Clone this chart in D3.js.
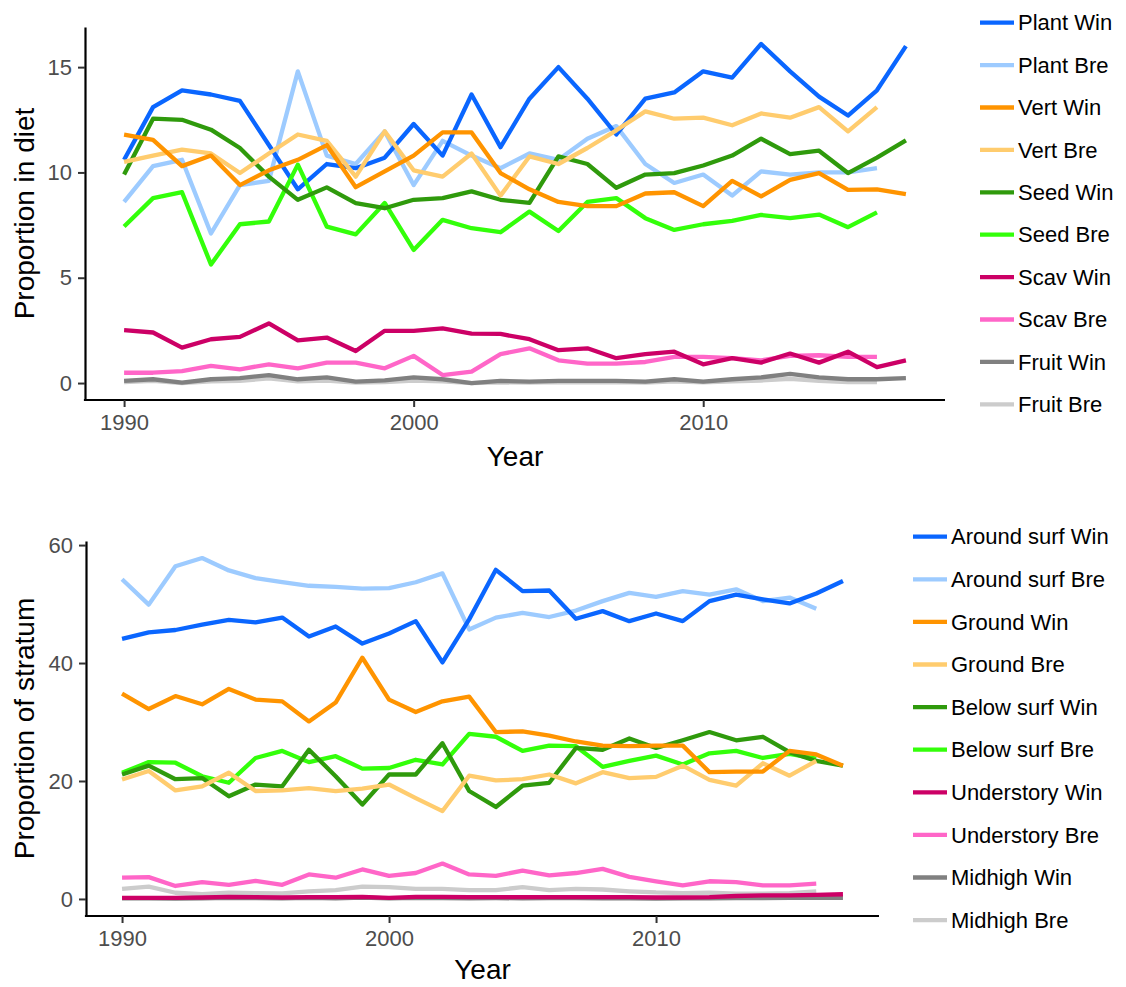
<!DOCTYPE html>
<html>
<head>
<meta charset="utf-8">
<script src="https://cdn.jsdelivr.net/npm/d3@7"></script>
<style>
  html, body { margin: 0; padding: 0; background: #ffffff; }
  svg text { font-family: "Liberation Sans", Arial, Helvetica, sans-serif; }
</style>
</head>
<body>
<svg id="chart" width="1126" height="987"></svg>
<script>
// Years sampled: winter series run to 2017, breeding series to 2016
const yearsWin = [1990,1991,1992,1993,1994,1995,1996,1997,1998,1999,2000,2001,2002,2003,2004,2005,2006,2007,2008,2009,2010,2011,2012,2013,2014,2015,2016,2017];
const yearsBre = [1990,1991,1992,1993,1994,1995,1996,1997,1998,1999,2000,2001,2002,2003,2004,2005,2006,2007,2008,2009,2010,2011,2012,2013,2014,2015,2016];

// Diet composition (%)
const plantWin = [10.6,13.1,13.9,13.7,13.4,11.3,9.2,10.4,10.2,10.7,12.3,10.8,13.7,11.2,13.5,15.0,13.5,11.8,13.5,13.8,14.8,14.5,16.1,14.8,13.6,12.7,13.9,16.0];
const plantBre = [8.6,10.3,10.6,7.1,9.4,9.6,14.8,10.8,10.4,11.95,9.4,11.5,10.8,10.2,10.9,10.6,11.6,12.2,10.4,9.5,9.9,8.9,10.05,9.9,10.0,10.0,10.2];
const vertWin  = [11.8,11.55,10.3,10.8,9.4,10.1,10.6,11.3,9.3,10.05,10.8,11.9,11.9,9.97,9.2,8.6,8.4,8.4,9.0,9.06,8.4,9.6,8.86,9.65,9.97,9.17,9.2,8.97];
const vertBre  = [10.5,10.8,11.08,10.9,9.97,10.9,11.8,11.5,9.8,11.95,10.1,9.8,10.9,8.9,10.76,10.4,11.16,12.0,12.9,12.55,12.6,12.24,12.8,12.6,13.1,11.95,13.1];
const seedWin  = [9.9,12.55,12.5,12.03,11.16,9.8,8.7,9.29,8.54,8.3,8.7,8.78,9.1,8.7,8.55,10.76,10.4,9.27,9.9,9.97,10.33,10.8,11.6,10.87,11.03,9.97,10.7,11.52];
const seedBre  = [7.43,8.78,9.06,5.63,7.54,7.67,10.37,7.43,7.06,8.55,6.32,7.75,7.35,7.16,8.14,7.22,8.6,8.78,7.83,7.27,7.54,7.7,7.98,7.83,8.0,7.4,8.1];
const scavWin  = [2.51,2.4,1.68,2.08,2.19,2.83,2.03,2.16,1.52,2.48,2.48,2.6,2.35,2.33,2.08,1.56,1.65,1.18,1.37,1.49,0.89,1.18,0.97,1.4,0.97,1.49,0.76,1.08];
const scavBre  = [0.49,0.49,0.57,0.81,0.65,0.89,0.7,0.97,0.97,0.7,1.29,0.38,0.54,1.37,1.65,1.08,0.92,0.92,1.0,1.24,1.24,1.18,1.08,1.29,1.32,1.24,1.24];
const fruitWin = [0.1,0.18,0.02,0.18,0.23,0.38,0.18,0.27,0.07,0.13,0.27,0.18,0.0,0.1,0.07,0.1,0.1,0.1,0.07,0.18,0.07,0.18,0.27,0.43,0.27,0.18,0.18,0.23];
const fruitBre = [0.05,0.1,0.0,0.08,0.1,0.22,0.08,0.12,0.02,0.05,0.12,0.08,0.0,0.03,0.02,0.05,0.03,0.05,0.02,0.08,0.03,0.08,0.12,0.2,0.1,0.05,0.05];

// Foraging stratum (%)
const aroundWin = [44.1,45.2,45.6,46.5,47.3,46.9,47.7,44.5,46.2,43.3,45.0,47.1,40.1,47.4,55.8,52.2,52.3,47.5,48.8,47.1,48.4,47.1,50.5,51.6,50.8,50.1,51.8,53.9];
const aroundBre = [54.2,49.9,56.4,57.8,55.7,54.4,53.7,53.1,52.9,52.6,52.7,53.7,55.2,45.7,47.7,48.5,47.8,48.9,50.5,51.9,51.2,52.2,51.6,52.5,50.5,51.1,49.2];
const groundWin = [34.8,32.2,34.4,33.0,35.6,33.8,33.5,30.1,33.3,40.9,33.8,31.7,33.5,34.3,28.3,28.4,27.7,26.7,26.0,25.9,26.0,26.0,21.5,21.6,21.6,25.1,24.5,22.6];
const groundBre = [20.25,21.7,18.4,19.1,21.4,18.3,18.4,18.8,18.3,18.7,19.4,17.1,14.9,20.9,20.1,20.3,21.1,19.6,21.5,20.5,20.7,22.6,20.2,19.2,23.0,20.9,23.4];
const belowWin  = [21.1,22.6,20.3,20.5,17.4,19.4,19.1,25.3,20.8,16.0,21.1,21.1,26.4,18.3,15.6,19.2,19.7,25.6,25.3,27.2,25.6,26.9,28.3,26.9,27.5,24.9,23.4,22.6];
const belowBre  = [21.4,23.2,23.1,20.8,19.7,23.9,25.1,23.2,24.2,22.1,22.2,23.6,22.8,28.0,27.5,25.1,26.0,25.9,22.4,23.4,24.3,22.8,24.7,25.1,23.9,24.6,23.8];
const underWin  = [0.2,0.2,0.2,0.25,0.35,0.3,0.25,0.3,0.3,0.35,0.2,0.35,0.35,0.3,0.3,0.3,0.3,0.3,0.3,0.3,0.25,0.25,0.3,0.5,0.6,0.6,0.7,0.8];
const underBre  = [3.6,3.7,2.2,2.85,2.4,3.05,2.4,4.15,3.6,5.0,3.9,4.4,6.0,4.15,3.9,4.8,4.0,4.4,5.1,3.75,3.0,2.3,3.0,2.85,2.3,2.3,2.6];
const midWin    = [0.1,0.1,0.05,0.1,0.2,0.15,0.1,0.2,0.1,0.25,0.1,0.2,0.15,0.1,0.15,0.1,0.15,0.15,0.1,0.1,0.05,0.1,0.1,0.15,0.15,0.2,0.2,0.2];
const midBre    = [1.7,2.1,1.05,0.8,1.05,1.0,0.95,1.3,1.5,2.1,2.0,1.7,1.7,1.5,1.5,2.0,1.5,1.7,1.6,1.3,1.1,1.0,1.05,0.9,0.9,1.0,1.3];

// Legend labels and the shared colour scheme
const dietLabels   = ["Plant Win","Plant Bre","Vert Win","Vert Bre","Seed Win","Seed Bre","Scav Win","Scav Bre","Fruit Win","Fruit Bre"];
const strataLabels = ["Around surf Win","Around surf Bre","Ground Win","Ground Bre","Below surf Win","Below surf Bre","Understory Win","Understory Bre","Midhigh Win","Midhigh Bre"];
const palette = ["#0a66ff","#9dcbff","#ff9400","#ffcc6e","#2f9a0c","#33ff0a","#cc0066","#ff66c8","#808080","#cccccc"];

// Tick labels
const xTicks = [1990, 2000, 2010];
const dietTicks = [0, 5, 10, 15];
const strataTicks = [0, 20, 40, 60];

const dietValues   = [plantWin, plantBre, vertWin, vertBre, seedWin, seedBre, scavWin, scavBre, fruitWin, fruitBre];
const strataValues = [aroundWin, aroundBre, groundWin, groundBre, belowWin, belowBre, underWin, underBre, midWin, midBre];

function buildSeries(labels, values) {
  return labels.map((name, i) => {
    const yrs = name.endsWith("Win") ? yearsWin : yearsBre;
    return { name, color: palette[i], points: values[i].map((v, j) => ({ year: yrs[j], value: v })) };
  });
}

const svg = d3.select("#chart");
svg.append("rect").attr("width", 1126).attr("height", 987).attr("fill", "#ffffff");

function expand([lo, hi], f = 0.05) {
  const pad = (hi - lo) * f;
  return [lo - pad, hi + pad];
}

function panel(cfg) {
  const series = buildSeries(cfg.labels, cfg.values);
  const allYears = yearsWin.concat(yearsBre);
  const allVals = cfg.values.flat();

  const x = d3.scaleLinear().domain(expand(d3.extent(allYears))).range([cfg.left, cfg.right]);
  const y = d3.scaleLinear().domain(expand([Math.min(0, d3.min(allVals)), d3.max(allVals)])).range([cfg.bottom, cfg.top]);

  const g = svg.append("g");

  // series lines, layered alphabetically by group name
  const layered = series.slice().sort((a, b) => d3.ascending(a.name, b.name));
  const line = d3.line().x(d => x(d.year)).y(d => y(d.value));
  g.append("g").selectAll("path").data(layered).join("path")
    .attr("d", d => line(d.points))
    .attr("fill", "none")
    .attr("stroke", d => d.color)
    .attr("stroke-width", 4.3)
    .attr("stroke-linejoin", "round");

  // axes
  const xAxis = d3.axisBottom(x).tickValues(xTicks).tickFormat(d3.format("d")).tickSize(7).tickPadding(7).tickSizeOuter(0);
  const yAxis = d3.axisLeft(y).tickValues(cfg.yTicks).tickFormat(d3.format("d")).tickSize(7).tickPadding(6).tickSizeOuter(0);

  const gx = g.append("g").attr("transform", `translate(0,${cfg.bottom})`).call(xAxis);
  const gy = g.append("g").attr("transform", `translate(${cfg.left},0)`).call(yAxis);
  [gx, gy].forEach(a => {
    a.select(".domain").attr("stroke", "#000").attr("stroke-width", 2.2);
    a.selectAll(".tick line").attr("stroke", "#333").attr("stroke-width", 2);
    a.selectAll(".tick text").attr("fill", "#4d4d4d").attr("font-size", 22);
  });
  // the x axis line spans the full panel, the y axis line meets it at the corner
  gx.select(".domain").attr("d", `M${cfg.left - 1.1},0H${cfg.right}`);

  // axis titles
  g.append("text")
    .attr("x", (cfg.left + cfg.right) / 2).attr("y", cfg.bottom + cfg.xTitleGap)
    .attr("text-anchor", "middle").attr("font-size", 28).attr("fill", "#000")
    .text("Year");
  g.append("text")
    .attr("transform", `translate(34,${(cfg.top + cfg.bottom) / 2}) rotate(-90)`)
    .attr("text-anchor", "middle").attr("font-size", 28).attr("fill", "#000")
    .text(cfg.yTitle);

  // legend
  const lg = g.append("g");
  series.forEach((s, i) => {
    const cy = cfg.legendTop + i * cfg.legendStep;
    lg.append("line")
      .attr("x1", cfg.legendX).attr("x2", cfg.legendX + 34)
      .attr("y1", cy).attr("y2", cy)
      .attr("stroke", s.color).attr("stroke-width", 4.3);
    lg.append("text")
      .attr("x", cfg.legendX + 38).attr("y", cy)
      .attr("dy", "0.35em").attr("font-size", 22).attr("fill", "#000")
      .text(s.name);
  });
}

panel({
  labels: dietLabels, values: dietValues, yTicks: dietTicks,
  yTitle: "Proportion in diet",
  left: 85, right: 945, top: 27, bottom: 400, xTitleGap: 66,
  legendX: 980, legendTop: 22.7, legendStep: 42.4
});

panel({
  labels: strataLabels, values: strataValues, yTicks: strataTicks,
  yTitle: "Proportion of stratum",
  left: 86, right: 879, top: 541, bottom: 916, xTitleGap: 63,
  legendX: 913, legendTop: 536.7, legendStep: 42.6
});
</script>
</body>
</html>
